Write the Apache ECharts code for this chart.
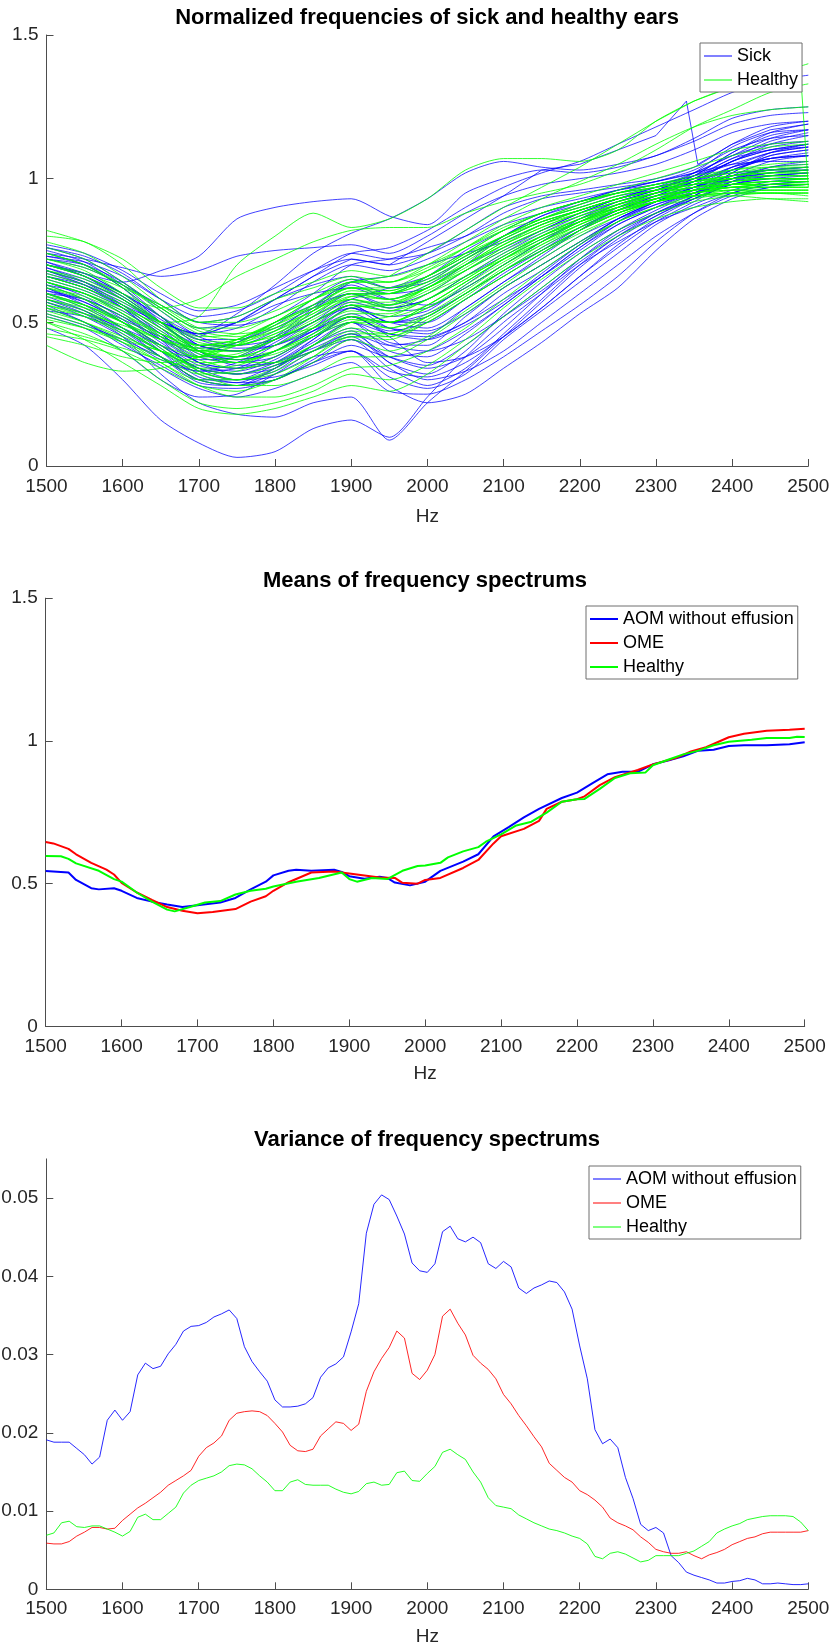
<!DOCTYPE html>
<html><head><meta charset="utf-8">
<script src="https://cdn.jsdelivr.net/npm/echarts@6/dist/echarts.min.js"></script>
<style>html,body{margin:0;padding:0;background:#fff}#c{width:834px;height:1650px}</style>
</head><body><div id="c"></div>
<script>
const FONT = "'Liberation Sans', Arial, Helvetica, sans-serif";

// ---------- Panel 1: normalized spectra (sampled every 50 Hz) ----------
const freq50 = [1500,1550,1600,1650,1700,1750,1800,1850,1900,1950,2000,2050,2100,2150,2200,2250,2300,2350,2400,2450,2500];
const sickCurves = [
[0.72,0.70,0.64,0.55,0.48,0.50,0.56,0.60,0.62,0.58,0.63,0.70,0.76,0.82,0.88,0.93,0.97,1.02,1.08,1.12,1.13],
[0.66,0.62,0.55,0.45,0.36,0.34,0.38,0.45,0.50,0.43,0.42,0.52,0.62,0.70,0.78,0.86,0.92,0.96,1.00,1.02,1.03],
[0.60,0.55,0.48,0.40,0.31,0.29,0.34,0.42,0.47,0.36,0.32,0.40,0.53,0.64,0.74,0.82,0.88,0.93,0.98,1.00,1.01],
[0.76,0.73,0.67,0.58,0.50,0.52,0.58,0.63,0.66,0.62,0.64,0.72,0.79,0.85,0.89,0.93,0.96,1.01,1.09,1.16,1.19],
[0.55,0.50,0.42,0.35,0.28,0.27,0.30,0.36,0.40,0.31,0.27,0.32,0.44,0.54,0.64,0.74,0.84,0.91,0.96,0.99,1.00],
[0.48,0.42,0.30,0.16,0.08,0.03,0.05,0.13,0.16,0.10,0.24,0.38,0.50,0.60,0.70,0.78,0.85,0.90,0.95,0.98,0.99],
[0.58,0.53,0.45,0.32,0.22,0.18,0.17,0.22,0.24,0.09,0.22,0.33,0.45,0.57,0.69,0.79,0.87,0.93,0.98,1.01,1.02],
[0.70,0.67,0.64,0.68,0.73,0.86,0.90,0.92,0.93,0.87,0.84,0.95,1.00,1.03,1.02,1.04,1.08,1.13,1.19,1.22,1.23],
[0.74,0.72,0.69,0.66,0.68,0.73,0.75,0.76,0.77,0.74,0.80,0.88,0.94,0.98,1.00,1.02,1.05,1.10,1.16,1.19,1.20],
[0.70,0.66,0.58,0.50,0.46,0.53,0.63,0.74,0.81,0.86,0.93,1.02,1.06,1.04,1.03,1.05,1.08,1.14,1.21,1.24,1.25],
[0.64,0.60,0.53,0.44,0.40,0.43,0.50,0.56,0.60,0.55,0.58,0.66,0.73,0.80,0.86,0.91,0.95,0.99,1.04,1.07,1.08],
[0.68,0.64,0.58,0.48,0.38,0.36,0.42,0.50,0.56,0.50,0.52,0.60,0.68,0.76,0.83,0.89,0.94,0.99,1.06,1.11,1.13],
[0.62,0.57,0.50,0.40,0.30,0.30,0.35,0.40,0.44,0.34,0.28,0.34,0.46,0.58,0.70,0.80,0.87,0.94,1.02,1.08,1.10],
[0.73,0.70,0.62,0.52,0.44,0.44,0.48,0.55,0.60,0.56,0.60,0.68,0.75,0.82,0.88,0.93,0.97,1.00,1.02,1.03,1.04],
[0.57,0.52,0.45,0.37,0.33,0.36,0.43,0.50,0.55,0.50,0.48,0.55,0.64,0.72,0.80,0.86,0.91,0.95,0.99,1.01,1.02],
[0.66,0.62,0.56,0.50,0.46,0.48,0.55,0.64,0.70,0.68,0.72,0.78,0.84,0.88,0.92,0.95,0.97,1.00,1.06,1.12,1.15],
[0.52,0.48,0.40,0.30,0.24,0.25,0.32,0.40,0.45,0.36,0.30,0.33,0.40,0.50,0.60,0.70,0.80,0.88,0.94,0.97,0.98],
[0.60,0.58,0.52,0.44,0.36,0.34,0.36,0.43,0.50,0.46,0.45,0.50,0.58,0.66,0.75,0.84,0.90,0.96,1.03,1.07,1.09],
[0.70,0.67,0.60,0.52,0.42,0.40,0.45,0.52,0.58,0.62,0.66,0.73,0.80,0.86,0.90,0.94,0.96,0.98,1.00,1.01,1.02],
[0.63,0.58,0.50,0.42,0.34,0.32,0.36,0.44,0.52,0.45,0.36,0.38,0.45,0.55,0.66,0.76,0.85,0.92,0.99,1.04,1.06],
[0.77,0.74,0.68,0.60,0.54,0.56,0.62,0.68,0.72,0.70,0.74,0.82,0.90,0.94,0.96,0.98,1.00,1.04,1.12,1.18,1.20],
[0.59,0.54,0.46,0.38,0.30,0.28,0.30,0.36,0.42,0.38,0.40,0.47,0.56,0.66,0.76,0.85,0.92,0.97,1.01,1.03,1.04],
[0.54,0.52,0.47,0.40,0.34,0.32,0.35,0.40,0.46,0.42,0.44,0.50,0.60,0.68,0.77,0.85,0.91,0.95,0.98,1.00,1.00],
[0.69,0.64,0.56,0.46,0.38,0.38,0.44,0.52,0.60,0.60,0.66,0.75,0.82,0.88,0.92,0.96,0.99,1.03,1.10,1.14,1.15],
[0.62,0.56,0.48,0.38,0.30,0.28,0.32,0.38,0.40,0.28,0.22,0.25,0.34,0.43,0.53,0.62,0.75,0.86,0.93,0.97,0.98],
[0.56,0.50,0.43,0.34,0.27,0.24,0.27,0.32,0.36,0.26,0.25,0.30,0.38,0.47,0.56,0.66,0.78,0.88,0.95,0.98,0.99],
[0.71,0.66,0.59,0.50,0.42,0.42,0.47,0.56,0.63,0.58,0.56,0.62,0.70,0.78,0.86,0.92,0.96,1.02,1.11,1.16,1.17],
[0.65,0.61,0.55,0.47,0.39,0.37,0.40,0.47,0.55,0.52,0.54,0.63,0.72,0.79,0.85,0.90,0.94,0.97,1.00,1.02,1.03],
[0.75,0.71,0.63,0.52,0.42,0.40,0.42,0.48,0.56,0.50,0.50,0.58,0.66,0.74,0.82,0.90,0.95,1.00,1.07,1.10,1.11],
[0.61,0.57,0.51,0.45,0.41,0.43,0.49,0.58,0.65,0.62,0.65,0.72,0.80,0.87,0.92,0.96,0.99,1.02,1.05,1.06,1.06],
[0.70,0.66,0.60,0.52,0.46,0.50,0.58,0.66,0.74,0.76,0.82,0.90,0.97,1.02,1.06,1.12,1.18,1.24,1.30,1.34,1.36],
[0.74,0.70,0.62,0.50,0.40,0.36,0.38,0.46,0.55,0.48,0.46,0.55,0.64,0.73,0.82,0.89,0.94,0.99,1.06,1.10,1.12],
[0.67,0.63,0.55,0.44,0.33,0.30,0.33,0.42,0.50,0.40,0.38,0.46,0.56,0.66,0.76,0.84,0.90,0.95,1.00,1.03,1.04],
[0.58,0.54,0.47,0.38,0.29,0.28,0.34,0.44,0.52,0.47,0.50,0.58,0.67,0.75,0.83,0.89,0.93,0.97,1.03,1.08,1.10],
[0.72,0.69,0.63,0.56,0.50,0.49,0.52,0.60,0.70,0.72,0.76,0.80,0.86,0.90,0.93,0.96,0.98,1.01,1.07,1.13,1.16],
[0.63,0.60,0.54,0.46,0.36,0.32,0.34,0.42,0.48,0.42,0.40,0.44,0.52,0.61,0.71,0.80,0.88,0.94,1.00,1.04,1.05],
[0.69,0.65,0.59,0.50,0.40,0.35,0.36,0.41,0.46,0.38,0.34,0.38,0.48,0.60,0.72,0.82,0.89,0.95,1.02,1.09,1.12],
[0.53,0.49,0.44,0.38,0.33,0.34,0.40,0.47,0.53,0.48,0.47,0.53,0.62,0.70,0.78,0.86,0.92,0.97,1.01,1.03,1.03],
[0.76,0.72,0.64,0.54,0.45,0.42,0.44,0.50,0.58,0.55,0.58,0.66,0.74,0.81,0.87,0.92,0.96,1.01,1.09,1.15,1.17],
[0.60,0.56,0.50,0.42,0.34,0.30,0.31,0.35,0.40,0.33,0.31,0.36,0.45,0.55,0.66,0.77,0.86,0.93,0.99,1.02,1.03],
[0.66,0.63,0.57,0.49,0.42,0.40,0.44,0.54,0.64,0.66,0.70,0.74,0.78,0.84,0.89,0.93,0.96,0.99,1.03,1.07,1.08],
[0.71,0.67,0.60,0.51,0.44,0.41,0.42,0.47,0.52,0.46,0.44,0.49,0.57,0.67,0.77,0.86,0.92,0.97,1.04,1.09,1.11],
[0.57,0.53,0.48,0.42,0.37,0.38,0.45,0.55,0.64,0.60,0.62,0.70,0.80,0.87,0.91,0.95,0.98,1.01,1.05,1.09,1.11],
[0.64,0.59,0.51,0.41,0.32,0.29,0.30,0.37,0.44,0.38,0.35,0.42,0.52,0.62,0.72,0.81,0.88,0.94,1.01,1.06,1.08],
[0.73,0.71,0.66,0.58,0.52,0.54,0.60,0.68,0.74,0.72,0.74,0.80,0.88,0.93,0.95,0.97,0.99,1.02,1.08,1.14,1.17],
[0.61,0.58,0.52,0.43,0.35,0.33,0.37,0.45,0.52,0.50,0.53,0.60,0.68,0.75,0.82,0.88,0.93,0.98,1.04,1.07,1.08],
[0.68,0.63,0.56,0.48,0.40,0.37,0.40,0.48,0.57,0.54,0.55,0.62,0.70,0.78,0.85,0.91,0.95,1.00,1.06,1.10,1.12]
];
const sickSpikeFreq = [1500,1550,1600,1650,1700,1750,1800,1850,1900,1950,2000,2050,2100,2150,2200,2250,2300,2340,2355,2400,2450,2500];
const sickSpikeVals = [0.68,0.64,0.58,0.50,0.45,0.50,0.58,0.66,0.72,0.70,0.78,0.86,0.94,1.03,1.05,1.10,1.15,1.27,1.05,1.12,1.17,1.19];

const healthyCurves = [
[0.80,0.78,0.70,0.58,0.50,0.52,0.58,0.62,0.66,0.64,0.68,0.74,0.80,0.85,0.89,0.93,0.96,0.98,1.00,1.01,1.01],
[0.82,0.78,0.72,0.62,0.55,0.55,0.60,0.64,0.68,0.66,0.70,0.76,0.82,0.86,0.90,0.94,0.97,0.99,1.01,1.02,1.03],
[0.45,0.42,0.38,0.36,0.38,0.44,0.50,0.55,0.58,0.55,0.60,0.66,0.72,0.78,0.84,0.89,0.93,0.96,0.98,0.99,1.00],
[0.42,0.36,0.33,0.34,0.38,0.42,0.45,0.48,0.52,0.48,0.52,0.60,0.68,0.75,0.82,0.88,0.92,0.95,0.97,0.98,0.98],
[0.60,0.56,0.50,0.42,0.33,0.30,0.33,0.40,0.47,0.45,0.50,0.58,0.66,0.74,0.82,0.88,0.92,0.95,0.97,0.98,0.99],
[0.55,0.50,0.44,0.36,0.28,0.24,0.24,0.28,0.34,0.35,0.40,0.48,0.58,0.68,0.77,0.85,0.90,0.94,0.96,0.97,0.97],
[0.50,0.46,0.40,0.30,0.22,0.20,0.22,0.26,0.32,0.30,0.35,0.44,0.55,0.65,0.74,0.82,0.88,0.92,0.94,0.95,0.95],
[0.64,0.60,0.55,0.50,0.52,0.70,0.80,0.88,0.83,0.86,0.93,1.03,1.07,1.07,1.06,1.10,1.20,1.27,1.32,1.36,1.40],
[0.70,0.66,0.60,0.55,0.58,0.66,0.72,0.78,0.82,0.83,0.83,0.88,0.92,0.95,0.98,1.03,1.10,1.18,1.24,1.30,1.33],
[0.68,0.64,0.58,0.50,0.42,0.42,0.46,0.52,0.58,0.56,0.62,0.70,0.78,0.84,0.88,0.92,0.95,0.97,0.99,1.00,1.00],
[0.74,0.70,0.62,0.52,0.45,0.46,0.52,0.58,0.62,0.60,0.64,0.70,0.77,0.83,0.88,0.92,0.95,0.97,0.98,0.98,0.98],
[0.58,0.54,0.48,0.40,0.35,0.38,0.44,0.50,0.56,0.54,0.58,0.65,0.73,0.80,0.86,0.91,0.95,0.98,1.01,1.03,1.04],
[0.52,0.48,0.43,0.38,0.32,0.33,0.38,0.45,0.52,0.50,0.55,0.62,0.70,0.77,0.83,0.88,0.92,0.95,0.96,0.96,0.96],
[0.64,0.60,0.53,0.45,0.38,0.36,0.40,0.46,0.52,0.50,0.56,0.64,0.72,0.79,0.85,0.90,0.94,0.96,0.97,0.97,0.97],
[0.70,0.67,0.62,0.56,0.50,0.50,0.54,0.60,0.65,0.62,0.66,0.73,0.80,0.86,0.90,0.94,0.97,1.00,1.03,1.05,1.06],
[0.56,0.52,0.46,0.38,0.30,0.28,0.30,0.36,0.44,0.40,0.45,0.54,0.63,0.72,0.80,0.87,0.92,0.95,0.97,0.97,0.98],
[0.48,0.45,0.41,0.37,0.34,0.35,0.40,0.48,0.55,0.56,0.62,0.68,0.75,0.81,0.86,0.90,0.93,0.95,0.96,0.96,0.96],
[0.50,0.44,0.36,0.28,0.20,0.18,0.20,0.24,0.28,0.26,0.32,0.42,0.52,0.62,0.72,0.80,0.86,0.90,0.92,0.93,0.93],
[0.66,0.62,0.56,0.48,0.40,0.36,0.36,0.40,0.45,0.44,0.50,0.58,0.66,0.74,0.81,0.87,0.92,0.95,0.97,0.98,0.98],
[0.78,0.74,0.66,0.56,0.48,0.46,0.48,0.54,0.60,0.60,0.66,0.74,0.82,0.88,0.92,0.95,0.98,1.00,1.02,1.04,1.05],
[0.62,0.58,0.52,0.46,0.42,0.44,0.50,0.56,0.62,0.62,0.68,0.76,0.84,0.90,0.94,0.98,1.02,1.06,1.10,1.12,1.13],
[0.54,0.50,0.45,0.40,0.38,0.42,0.48,0.54,0.60,0.58,0.62,0.70,0.78,0.84,0.89,0.93,0.96,0.98,1.00,1.01,1.01],
[0.72,0.68,0.60,0.50,0.40,0.38,0.42,0.48,0.54,0.52,0.56,0.64,0.72,0.80,0.86,0.90,0.93,0.94,0.94,0.93,0.92],
[0.60,0.56,0.50,0.44,0.40,0.40,0.44,0.50,0.56,0.54,0.60,0.68,0.76,0.82,0.87,0.91,0.94,0.96,0.97,0.97,0.97],
[0.58,0.55,0.50,0.44,0.37,0.34,0.36,0.42,0.48,0.46,0.52,0.60,0.69,0.77,0.84,0.90,0.94,0.97,0.99,1.00,1.00],
[0.66,0.62,0.56,0.48,0.42,0.44,0.50,0.58,0.64,0.64,0.70,0.78,0.86,0.93,0.99,1.05,1.12,1.18,1.22,1.24,1.25],
[0.46,0.44,0.40,0.34,0.28,0.26,0.30,0.38,0.46,0.46,0.52,0.60,0.68,0.75,0.82,0.88,0.92,0.94,0.95,0.95,0.95],
[0.62,0.59,0.53,0.46,0.40,0.38,0.42,0.49,0.56,0.56,0.61,0.68,0.76,0.82,0.87,0.91,0.94,0.96,0.98,0.99,0.99],
[0.70,0.66,0.59,0.50,0.43,0.42,0.46,0.53,0.60,0.58,0.63,0.71,0.79,0.85,0.89,0.93,0.96,0.98,1.00,1.01,1.01],
[0.57,0.53,0.47,0.40,0.34,0.32,0.35,0.42,0.50,0.50,0.56,0.64,0.72,0.79,0.85,0.90,0.93,0.96,0.98,0.99,0.99],
[0.76,0.72,0.64,0.55,0.47,0.45,0.49,0.55,0.62,0.61,0.66,0.73,0.80,0.86,0.91,0.95,0.98,1.01,1.03,1.04,1.04],
[0.51,0.48,0.44,0.40,0.36,0.36,0.40,0.46,0.53,0.53,0.58,0.65,0.73,0.80,0.85,0.89,0.92,0.94,0.95,0.95,0.95],
[0.65,0.61,0.55,0.47,0.39,0.37,0.39,0.45,0.51,0.50,0.55,0.63,0.71,0.78,0.84,0.89,0.93,0.96,0.98,0.99,0.99],
[0.59,0.56,0.51,0.45,0.40,0.40,0.45,0.52,0.59,0.60,0.65,0.72,0.79,0.85,0.89,0.93,0.96,0.99,1.01,1.02,1.02],
[0.68,0.65,0.58,0.49,0.41,0.38,0.40,0.45,0.50,0.48,0.53,0.61,0.70,0.78,0.85,0.91,0.95,0.98,0.99,1.00,1.00],
[0.53,0.49,0.43,0.36,0.30,0.30,0.34,0.42,0.50,0.52,0.58,0.66,0.74,0.80,0.85,0.89,0.92,0.94,0.95,0.95,0.94],
[0.72,0.69,0.63,0.55,0.48,0.48,0.52,0.58,0.64,0.64,0.69,0.76,0.83,0.88,0.92,0.95,0.98,1.00,1.02,1.03,1.03],
[0.63,0.58,0.50,0.41,0.33,0.30,0.32,0.38,0.45,0.45,0.51,0.59,0.68,0.76,0.83,0.89,0.93,0.96,0.98,0.98,0.98],
[0.56,0.53,0.49,0.44,0.41,0.43,0.49,0.56,0.62,0.61,0.66,0.74,0.82,0.88,0.92,0.95,0.97,0.99,1.00,1.00,1.00],
[0.67,0.63,0.57,0.50,0.44,0.43,0.47,0.54,0.61,0.60,0.64,0.72,0.80,0.86,0.91,0.96,1.00,1.04,1.08,1.11,1.12],
[0.60,0.55,0.48,0.40,0.32,0.28,0.28,0.32,0.38,0.38,0.44,0.53,0.62,0.70,0.78,0.85,0.90,0.93,0.95,0.96,0.96],
[0.74,0.70,0.63,0.54,0.46,0.44,0.47,0.53,0.59,0.58,0.62,0.69,0.77,0.84,0.89,0.93,0.96,0.99,1.01,1.02,1.02],
[0.55,0.52,0.47,0.42,0.38,0.39,0.44,0.51,0.57,0.57,0.62,0.70,0.77,0.83,0.88,0.92,0.95,0.97,0.98,0.98,0.98]
];
const healthyDropFreq = [1500,1550,1600,1650,1700,1750,1800,1850,1900,1950,2000,2050,2100,2150,2200,2250,2300,2350,2400,2450,2490,2500];
const healthyDropVals = [0.64,0.60,0.54,0.46,0.40,0.42,0.50,0.58,0.64,0.66,0.74,0.82,0.90,0.97,1.04,1.12,1.20,1.27,1.32,1.35,1.36,0.97];

// ---------- Panel 2: means ----------
const aomMeanFreq = [1500,1530,1540,1560,1570,1590,1600,1620,1640,1660,1680,1700,1730,1750,1770,1790,1800,1820,1830,1850,1880,1890,1900,1920,1940,1950,1960,1980,2000,2020,2050,2070,2090,2110,2130,2150,2180,2200,2220,2240,2260,2280,2300,2320,2340,2360,2380,2400,2420,2450,2480,2500];
const aomMean = [0.544,0.539,0.513,0.484,0.480,0.484,0.475,0.450,0.437,0.427,0.418,0.424,0.434,0.450,0.480,0.507,0.529,0.545,0.549,0.545,0.549,0.541,0.526,0.517,0.524,0.520,0.504,0.494,0.507,0.545,0.577,0.603,0.666,0.698,0.732,0.762,0.800,0.819,0.851,0.883,0.892,0.892,0.918,0.931,0.946,0.966,0.969,0.982,0.985,0.985,0.988,0.995];
const omeMeanFreq = [1500,1510,1530,1540,1560,1580,1590,1600,1620,1640,1660,1680,1700,1720,1750,1770,1790,1800,1820,1850,1880,1900,1920,1940,1960,1970,1990,2000,2020,2050,2070,2090,2100,2130,2150,2160,2180,2200,2210,2230,2250,2280,2300,2330,2350,2370,2400,2420,2450,2480,2500];
const omeMean = [0.646,0.641,0.622,0.603,0.573,0.549,0.532,0.503,0.469,0.443,0.418,0.405,0.396,0.401,0.411,0.437,0.456,0.475,0.505,0.539,0.543,0.536,0.529,0.522,0.520,0.503,0.500,0.513,0.520,0.555,0.583,0.641,0.666,0.692,0.720,0.762,0.787,0.796,0.806,0.845,0.873,0.898,0.918,0.940,0.963,0.978,1.013,1.025,1.036,1.039,1.043];
const healthyMeanFreq = [1500,1520,1530,1540,1570,1590,1600,1620,1640,1660,1670,1690,1710,1730,1750,1770,1790,1800,1830,1860,1890,1900,1910,1930,1950,1970,1990,2000,2020,2030,2050,2070,2080,2100,2120,2140,2160,2180,2200,2210,2230,2250,2270,2290,2300,2320,2340,2360,2380,2400,2430,2450,2480,2490,2500];
const healthyMean = [0.597,0.596,0.587,0.571,0.545,0.516,0.507,0.469,0.437,0.409,0.403,0.418,0.434,0.439,0.462,0.475,0.482,0.490,0.507,0.520,0.539,0.516,0.507,0.520,0.516,0.545,0.562,0.564,0.573,0.592,0.613,0.628,0.647,0.673,0.704,0.717,0.749,0.787,0.796,0.797,0.832,0.870,0.887,0.889,0.915,0.934,0.953,0.966,0.985,0.997,1.004,1.010,1.010,1.015,1.014];

// ---------- Panel 3: variances (every 10 Hz) ----------
const freq10 = [1500,1510,1520,1530,1540,1550,1560,1570,1580,1590,1600,1610,1620,1630,1640,1650,1660,1670,1680,1690,1700,1710,1720,1730,1740,1750,1760,1770,1780,1790,1800,1810,1820,1830,1840,1850,1860,1870,1880,1890,1900,1910,1920,1930,1940,1950,1960,1970,1980,1990,2000,2010,2020,2030,2040,2050,2060,2070,2080,2090,2100,2110,2120,2130,2140,2150,2160,2170,2180,2190,2200,2210,2220,2230,2240,2250,2260,2270,2280,2290,2300,2310,2320,2330,2340,2350,2360,2370,2380,2390,2400,2410,2420,2430,2440,2450,2460,2470,2480,2490,2500];
const aomVar = [
0.0191,0.0188,0.0188,0.0188,0.0180,0.0172,0.0160,0.0169,0.0216,0.0229,
0.0216,0.0227,0.0274,0.0289,0.0282,0.0285,0.0301,0.0313,0.0330,0.0336,
0.0337,0.0341,0.0348,0.0352,0.0357,0.0346,0.0310,0.0291,0.0278,0.0266,
0.0242,0.0233,0.0233,0.0234,0.0237,0.0245,0.0271,0.0283,0.0288,0.0297,
0.0329,0.0365,0.0455,0.0492,0.0504,0.0498,0.0477,0.0454,0.0417,0.0407,
0.0405,0.0416,0.0457,0.0464,0.0448,0.0444,0.0450,0.0443,0.0416,0.0410,
0.0419,0.0412,0.0385,0.0378,0.0385,0.0389,0.0394,0.0392,0.0380,0.0358,
0.0311,0.0269,0.0204,0.0186,0.0192,0.0181,0.0143,0.0116,0.0083,0.0075,
0.0079,0.0072,0.0043,0.0034,0.0022,0.0018,0.0015,0.0012,0.0008,0.0008,
0.0010,0.0011,0.0014,0.0012,0.0007,0.0007,0.0008,0.0007,0.0006,0.0006,
0.0007];
const omeVar = [
0.0059,0.0058,0.0058,0.0061,0.0068,0.0073,0.0079,0.0079,0.0077,0.0078,
0.0088,0.0096,0.0104,0.0110,0.0117,0.0124,0.0133,0.0139,0.0145,0.0152,
0.0170,0.0181,0.0187,0.0196,0.0216,0.0225,0.0227,0.0228,0.0227,0.0222,
0.0212,0.0201,0.0184,0.0177,0.0176,0.0179,0.0196,0.0205,0.0214,0.0212,
0.0203,0.0211,0.0253,0.0278,0.0295,0.0309,0.0330,0.0321,0.0276,0.0268,
0.0280,0.0300,0.0349,0.0358,0.0340,0.0325,0.0299,0.0289,0.0281,0.0269,
0.0249,0.0237,0.0222,0.0209,0.0195,0.0182,0.0161,0.0152,0.0143,0.0137,
0.0126,0.0121,0.0114,0.0105,0.0091,0.0085,0.0081,0.0076,0.0067,0.0060,
0.0051,0.0048,0.0046,0.0046,0.0048,0.0043,0.0039,0.0044,0.0047,0.0051,
0.0057,0.0061,0.0065,0.0067,0.0071,0.0073,0.0073,0.0073,0.0073,0.0073,
0.0075];
const healthyVar = [
0.0069,0.0072,0.0085,0.0087,0.0080,0.0079,0.0081,0.0081,0.0077,0.0073,
0.0068,0.0074,0.0092,0.0096,0.0089,0.0089,0.0097,0.0105,0.0123,0.0133,
0.0139,0.0142,0.0145,0.0150,0.0158,0.0160,0.0159,0.0154,0.0145,0.0137,
0.0126,0.0126,0.0137,0.0140,0.0134,0.0133,0.0133,0.0133,0.0128,0.0124,
0.0122,0.0125,0.0135,0.0137,0.0133,0.0134,0.0149,0.0151,0.0139,0.0138,
0.0148,0.0157,0.0175,0.0179,0.0172,0.0166,0.0150,0.0137,0.0117,0.0107,
0.0105,0.0103,0.0095,0.0090,0.0085,0.0081,0.0077,0.0075,0.0072,0.0068,
0.0065,0.0058,0.0042,0.0039,0.0046,0.0048,0.0045,0.0040,0.0035,0.0037,
0.0043,0.0043,0.0043,0.0043,0.0046,0.0049,0.0055,0.0061,0.0072,0.0077,
0.0081,0.0084,0.0089,0.0091,0.0093,0.0094,0.0094,0.0094,0.0093,0.0086,
0.0075];
const varTicks = [0,0.01,0.02,0.03,0.04,0.05];

// ---------- names / titles ----------
const titles = ['Normalized frequencies of sick and healthy ears','Means of frequency spectrums','Variance of frequency spectrums'];
const names1 = ['Sick','Healthy'];
const names2 = ['AOM without effusion','OME','Healthy'];

const BLUE = '#0000ff', RED = '#ff0000', GREEN = '#00ff00';
const AXC = '#4d4d4d', TXC = '#262626';

function pairs(xs, ys){ return xs.map((x,i)=>[x, ys[i]]); }
const plain = v => String(v);

function xAx(gi, labelMargin, nameGap){
  return { type:'value', gridIndex:gi, min:1500, max:2500, interval:100,
    name:'Hz', nameLocation:'middle', nameGap:nameGap,
    nameTextStyle:{fontSize:19,color:TXC,fontFamily:FONT},
    axisLine:{show:true,lineStyle:{color:AXC,width:1}},
    axisTick:{show:true,inside:true,length:7,lineStyle:{color:AXC,width:1}},
    axisLabel:{fontSize:19,color:TXC,fontFamily:FONT,margin:labelMargin,formatter:plain},
    splitLine:{show:false} };
}
function yAx(gi, extra){
  return Object.assign({ type:'value', gridIndex:gi,
    axisLine:{show:true,lineStyle:{color:AXC,width:1}},
    axisTick:{show:true,inside:true,length:7,lineStyle:{color:AXC,width:1}},
    axisLabel:{fontSize:19,color:TXC,fontFamily:FONT,margin:8,formatter:plain},
    splitLine:{show:false} }, extra);
}

const series = [];
function addLine(name, gi, data, color, width, opacity, smooth){
  series.push({ type:'line', name:name, xAxisIndex:gi, yAxisIndex:gi, data:data,
    showSymbol:false, symbol:'none', silent:true, clip:true, smooth:smooth||false,
    lineStyle:{color:color,width:width,opacity:opacity}, itemStyle:{color:color} });
}
sickCurves.forEach(c => addLine('Sick', 0, pairs(freq50, c), BLUE, 1, 0.75, 0.25));
addLine('Sick', 0, pairs(sickSpikeFreq, sickSpikeVals), BLUE, 1, 0.75, false);
healthyCurves.forEach(c => addLine('Healthy', 0, pairs(freq50, c), GREEN, 1, 0.8, 0.25));
addLine('Healthy', 0, pairs(healthyDropFreq, healthyDropVals), GREEN, 1, 0.8, false);

addLine(names2[0], 1, pairs(aomMeanFreq, aomMean), BLUE, 2, 1);
addLine(names2[1], 1, pairs(omeMeanFreq, omeMean), RED, 2, 1);
addLine(names2[2], 1, pairs(healthyMeanFreq, healthyMean), GREEN, 2, 1);

addLine(names2[0], 2, pairs(freq10, aomVar), BLUE, 1, 0.85);
addLine(names2[1], 2, pairs(freq10, omeVar), RED, 1, 0.85);
addLine(names2[2], 2, pairs(freq10, healthyVar), GREEN, 1, 0.85);

function legend(left, top, names, colors, h){
  return { left:left, top:top, orient:'vertical', selectedMode:false,
    backgroundColor:'#fff', borderColor:'#6e6e6e', borderWidth:1,
    padding:[4,4,3,4], itemGap:6, itemWidth:28, itemHeight:h, icon:'rect',
    textStyle:{fontSize:18,color:'#000',fontFamily:FONT},
    data: names.map((n,i)=>({name:n, icon:'rect', itemStyle:{color:colors[i], opacity:1, borderWidth:0}})) };
}

const titleStyle = {fontSize:22,fontWeight:'bold',color:'#000',fontFamily:FONT};
const option = {
  animation:false,
  backgroundColor:'#fff',
  title:[
    {text:titles[0], left:427, top:7, textAlign:'center', textStyle:titleStyle, padding:0},
    {text:titles[1], left:425, top:570, textAlign:'center', textStyle:titleStyle, padding:0},
    {text:titles[2], left:427, top:1129, textAlign:'center', textStyle:titleStyle, padding:0}
  ],
  legend:[
    legend(700, 43, names1, [BLUE, GREEN], 1),
    legend(586, 606, names2, [BLUE, RED, GREEN], 2),
    legend(589, 1166, names2, [BLUE, RED, GREEN], 1)
  ],
  grid:[
    {left:46.5, top:35, width:761.8, height:431, outerBoundsMode:'none'},
    {left:45.7, top:598.2, width:759, height:428.2, outerBoundsMode:'none'},
    {left:46.3, top:1158.9, width:762, height:430.4, outerBoundsMode:'none'}
  ],
  xAxis:[ xAx(0, 11, 41), xAx(1, 11, 38), xAx(2, 10, 38) ],
  yAxis:[
    yAx(0, {min:0, max:1.5, interval:0.5}),
    yAx(1, {min:0, max:1.5, interval:0.5}),
    yAx(2, {min:0, max:0.055,
      axisTick:{show:true,inside:true,length:7,lineStyle:{color:AXC,width:1},customValues:varTicks},
      axisLabel:{fontSize:19,color:TXC,fontFamily:FONT,margin:8,formatter:plain,customValues:varTicks}})
  ],
  series:series
};
const chart = echarts.init(document.getElementById('c'), null, {renderer:'canvas'});
chart.setOption(option);
</script>
</body></html>
